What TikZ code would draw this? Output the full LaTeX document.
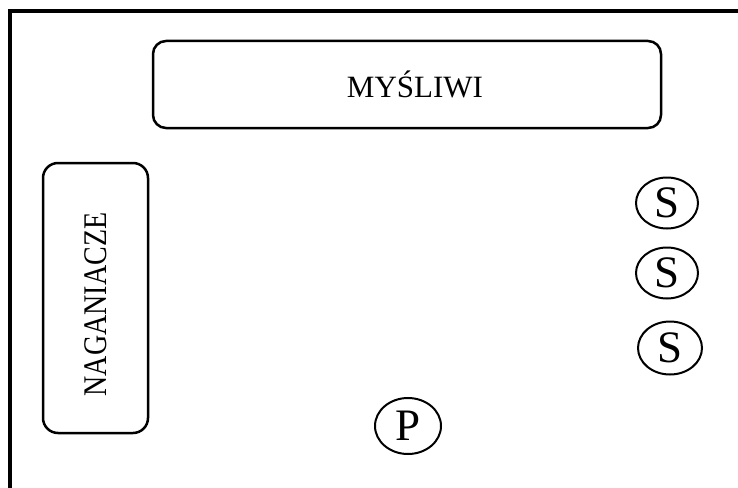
\documentclass[tikz,border=0pt]{standalone}
\usepackage{fontspec}
\setmainfont{Liberation Serif}
\usetikzlibrary{shapes.geometric}
\begin{document}
\begin{tikzpicture}[x=1pt,y=-1pt,
  framebox/.style={draw=black,line width=2.5pt,rounded corners=13pt,inner sep=0pt},
  oval/.style={draw=black,line width=2pt,ellipse,inner sep=0pt,minimum width=62pt,minimum height=51pt,font=\fontsize{45}{48}\selectfont}]
\useasboundingbox (0,0) rectangle (738,487);
\fill[white] (0,0) rectangle (738,487);
\draw[line width=4pt] (10,495) -- (10,11) -- (745,11);
\node[framebox,minimum width=508pt,minimum height=87pt,font=\fontsize{31}{36}\selectfont] (hunters) at (407,84.5) {\hspace*{16pt}MYŚLIWI};
\node[framebox,rounded corners=15pt,minimum width=105pt,minimum height=270pt] (beaters) at (95.5,298) {};
\node[rotate=90,inner sep=0pt,font=\fontsize{28}{34}\selectfont] (beaterstext) at (96,304.5) {\scalebox{1}[1.18]{NAGANIACZE}};
\node[oval] (s1) at (667,203) {S};
\node[oval] (s2) at (667,273) {S};
\node[oval,minimum width=64pt,minimum height=53pt] (s3) at (670,348) {S};
\node[oval,minimum width=66pt,minimum height=56pt] (p) at (408,426) {P};
\end{tikzpicture}
\end{document}
